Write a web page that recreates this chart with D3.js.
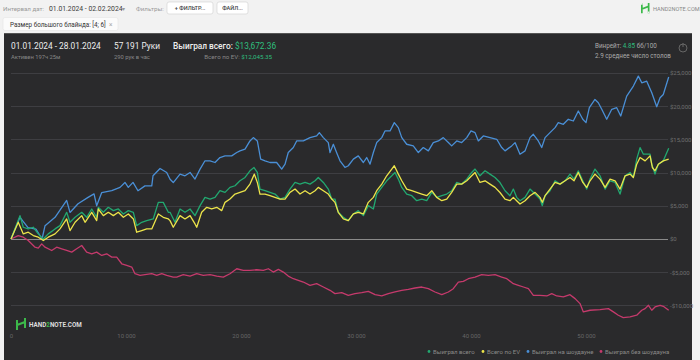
<!DOCTYPE html>
<html>
<head>
<meta charset="utf-8">
<script src="https://cdn.jsdelivr.net/npm/d3@7"></script>
<style>
  html, body { margin: 0; padding: 0; background: #f2f2f2; }
  body { width: 700px; height: 360px; overflow: hidden; font-family: Roboto, "Noto Sans", sans-serif; }
</style>
</head>
<body>
<svg id="chart" width="700" height="360"></svg>
<script>
// ---------- DATA ----------
const xTicks = [0, 10000, 20000, 30000, 40000, 50000];
const xTickLabels = ['0', '10 000', '20 000', '30 000', '40 000', '50 000'];
const yTicks = [25000, 20000, 15000, 10000, 5000, 0, -5000, -10000];
const yTickLabels = ['$25,000', '$20,000', '$15,000', '$10,000', '$5,000', '$0', '-$5,000', '-$10,000'];
const totalHands = 57191;

// Выиграл всего (green)
const wonHands = [0, 780, 1070, 1500, 1940, 2370, 2810, 3240, 3830, 4260, 4840, 5130, 5570, 6150, 6580, 7020, 7450, 7590, 8030, 8460, 8900, 9330, 9770, 10200, 10640, 10930, 11370, 11800, 12370, 12810, 13240, 13680, 13830, 14260, 14700, 15130, 15570, 16000, 16440, 16870, 17310, 17740, 18170, 18610, 19040, 19480, 19910, 20350, 20780, 21130, 21420, 21650, 22090, 22520, 22960, 23390, 23830, 24260, 24700, 25130, 25570, 26000, 26440, 26720, 27160, 27590, 27890, 28170, 28460, 28900, 29330, 29770, 30200, 30640, 31070, 31510, 31800, 32240, 32670, 33110, 33390, 33680, 33980, 34410, 34850, 35280, 35720, 36150, 36590, 37020, 37460, 37890, 38320, 38760, 39190, 39630, 40060, 40350, 40780, 41220, 41650, 42090, 42520, 42960, 43390, 43680, 43970, 44260, 44700, 45130, 45570, 46000, 46200, 46440, 46870, 47310, 47740, 48180, 48610, 48960, 49330, 49720, 50060, 50350, 50780, 51220, 51660, 52090, 52530, 52960, 53400, 53830, 54120, 54410, 54700, 54990, 55570, 55720, 56000, 56290, 56720, 57191];
const wonTotal = [0, 3520, 1770, 1520, 1770, 770, 0, 770, 1520, 2020, 4020, 2520, 3270, 4020, 3270, 4520, 3270, 4770, 4020, 4770, 4270, 4520, 3770, 4270, 4020, 2020, 2520, 2770, 3020, 5520, 5520, 4020, 4020, 2520, 4520, 4020, 4520, 3520, 5020, 6270, 6020, 6270, 7270, 7020, 7770, 8020, 8770, 9270, 10270, 10770, 10020, 7520, 7270, 7020, 6770, 6020, 6270, 7520, 8520, 8270, 8520, 8270, 8770, 9270, 8520, 7520, 6020, 6020, 4020, 3270, 2770, 3770, 4270, 3520, 5020, 4520, 6770, 7770, 8770, 9520, 10020, 9020, 7770, 6770, 6520, 5770, 6020, 5770, 7020, 6270, 6520, 6770, 7270, 8520, 8270, 9020, 10020, 10530, 9520, 10270, 9770, 9270, 8500, 7270, 6520, 7520, 6270, 5770, 6270, 7520, 6770, 6020, 5020, 6520, 7270, 8770, 8270, 8770, 9770, 9020, 10270, 8770, 7520, 9020, 10530, 9520, 7520, 8770, 8520, 6770, 9520, 10020, 9270, 12030, 13770, 12770, 12770, 11270, 9770, 11270, 11770, 13672];

// Всего по EV (yellow)
const evHands = [0, 630, 1070, 1500, 1940, 2370, 2810, 3240, 3830, 4260, 4840, 5130, 5570, 6150, 6440, 7020, 7450, 7590, 8030, 8460, 8900, 9330, 9770, 10200, 10640, 10930, 11370, 11800, 12240, 12810, 13240, 13680, 13830, 14110, 14700, 15130, 15570, 16000, 16150, 16580, 17020, 17450, 17890, 18320, 18610, 19040, 19480, 19910, 20350, 20780, 21160, 21420, 21650, 22090, 22520, 22960, 23390, 23830, 24260, 24700, 25130, 25570, 26000, 26440, 26720, 27160, 27590, 27890, 28170, 28460, 28900, 29330, 29770, 30200, 30640, 31070, 31510, 31800, 32240, 32670, 33110, 33330, 33680, 33980, 34410, 34850, 35280, 35720, 36150, 36590, 37020, 37460, 37890, 38320, 38760, 39190, 39630, 40060, 40350, 40780, 41220, 41650, 42090, 42520, 42960, 43390, 43680, 43970, 44260, 44700, 45130, 45570, 46000, 46200, 46440, 46870, 47310, 47740, 48180, 48610, 48960, 49330, 49720, 50060, 50350, 50780, 51220, 51660, 52090, 52530, 52960, 53400, 53830, 54120, 54410, 54700, 55140, 55570, 55770, 56000, 56290, 56720, 57191];
const evTotal = [0, 2520, 770, 1020, 520, 270, -230, 270, 770, 1520, 3020, 1270, 2520, 3520, 2520, 4020, 2770, 4520, 3520, 4020, 3520, 4020, 3270, 3770, 3020, 1020, 1270, 1520, 1520, 3770, 3270, 3020, 2770, 1770, 3520, 3020, 3520, 2270, 1770, 4020, 4770, 4520, 4770, 4270, 5520, 6020, 6770, 7020, 7270, 8270, 9770, 8520, 6770, 6770, 6520, 6270, 6020, 6020, 7020, 7520, 6770, 7270, 6770, 7270, 7770, 7270, 6770, 6020, 5520, 4020, 3020, 2770, 3770, 4020, 3770, 5520, 6270, 7270, 8270, 9520, 10530, 11030, 9770, 8770, 7520, 7270, 7020, 6770, 6520, 7270, 6270, 5770, 6020, 7020, 8270, 8270, 8770, 9520, 10020, 8520, 8770, 8270, 7770, 7000, 6020, 5770, 6270, 5770, 5270, 5770, 6520, 7020, 6270, 5520, 6520, 7520, 8520, 8270, 8770, 9270, 8770, 10020, 8520, 7770, 8770, 9770, 9020, 7770, 9020, 8770, 7520, 9520, 9770, 9270, 11270, 12270, 11770, 12520, 10770, 10270, 11270, 11770, 12045];

// Выиграл на шоудауне (blue)
const sdHands = [0, 780, 1480, 2170, 2700, 2960, 3830, 4840, 5130, 5830, 6700, 7220, 7450, 7890, 8760, 9480, 9910, 10200, 10610, 11040, 11650, 12240, 12350, 12960, 13540, 13830, 14110, 14700, 15130, 15570, 16000, 16440, 16870, 17310, 17740, 18170, 18610, 19190, 19630, 19910, 20350, 20780, 21070, 21420, 21710, 22090, 22520, 23100, 23540, 23830, 24110, 24550, 24840, 25420, 26000, 26580, 26810, 27160, 27590, 27740, 28030, 28320, 28610, 29040, 29330, 29770, 30200, 30640, 30930, 31220, 31510, 31800, 32240, 32520, 32960, 33330, 33680, 33980, 34410, 34980, 35420, 35850, 36290, 36720, 37160, 37590, 38030, 38320, 38760, 39190, 39630, 40000, 40350, 40640, 41070, 41650, 42240, 42670, 42960, 43540, 43830, 44260, 44700, 45130, 45420, 45850, 46150, 46440, 46870, 47310, 47590, 48030, 48460, 48900, 49330, 49720, 50000, 50290, 50780, 51070, 51370, 51800, 52240, 52670, 53020, 53540, 54120, 54550, 54850, 55280, 55720, 56150, 56440, 56720, 57191];
const sdWon = [0, 3270, 1700, 1500, 0, 2000, 3270, 5800, 4000, 5300, 6270, 6800, 5000, 7000, 7270, 7770, 8520, 7770, 8520, 7270, 8000, 8000, 9520, 10620, 10020, 9000, 8500, 9780, 9520, 10020, 9030, 10530, 11780, 11780, 11520, 12270, 12520, 12520, 13020, 13270, 13530, 14770, 15270, 14770, 12030, 11780, 11520, 11520, 10530, 11280, 13020, 13770, 14770, 14770, 15270, 15520, 16020, 15270, 14520, 13020, 14270, 13000, 11780, 10770, 11030, 12030, 12520, 11520, 12270, 11280, 13020, 14520, 15270, 16270, 16270, 17520, 16770, 15270, 14270, 14020, 13020, 13770, 13270, 14520, 14770, 15270, 14520, 14020, 14770, 14520, 15270, 16270, 16020, 14770, 15520, 15270, 15020, 13770, 13270, 14020, 14520, 12770, 13270, 15270, 15770, 14770, 13770, 15270, 16020, 16770, 17520, 17270, 18030, 17770, 19270, 18030, 17520, 19770, 21020, 20520, 19530, 18030, 19530, 19770, 18520, 21520, 23030, 24530, 23520, 23770, 22020, 19920, 21270, 21770, 24400];

// Выиграл без шоудауна (pink)
const nsdHands = [0, 630, 1070, 1500, 2090, 2370, 2670, 2960, 3540, 3970, 4410, 4840, 5280, 5710, 6150, 6580, 7020, 7450, 7890, 8320, 8760, 9190, 9630, 10060, 10500, 10780, 11220, 11650, 12240, 12670, 13110, 13540, 14110, 14410, 14980, 15570, 16150, 16720, 17310, 17890, 18460, 19040, 19630, 20200, 20780, 21370, 21940, 22380, 22810, 23250, 23680, 24110, 24550, 24980, 25420, 26000, 26580, 27160, 27740, 28170, 28760, 29330, 29910, 30500, 31070, 31660, 32240, 32810, 33390, 33980, 34550, 35130, 35720, 36290, 36870, 37460, 38030, 38460, 38900, 39330, 39770, 40350, 40930, 41510, 42090, 42670, 43110, 43680, 44120, 44560, 44990, 45420, 46000, 46590, 47020, 47460, 48030, 48610, 49050, 49480, 49770, 50350, 51220, 51940, 52380, 52810, 53240, 53830, 54410, 54850, 55140, 55430, 55720, 56000, 56440, 56720, 57191];
const nsdWon = [0, 520, 270, -230, -1230, -1380, -730, -1230, -1730, -1230, -1480, -1730, -1980, -1480, -980, -1980, -2230, -1980, -2480, -2230, -2730, -2730, -3730, -3980, -4230, -5230, -5480, -5380, -5230, -5480, -5230, -5480, -5730, -5730, -5380, -5580, -5230, -5480, -5380, -5580, -5730, -5230, -4480, -4730, -4730, -4630, -4730, -4480, -4980, -4580, -4980, -5580, -5980, -6230, -6480, -6980, -6730, -7230, -7730, -8230, -8080, -8480, -8230, -8080, -7880, -8380, -8580, -8230, -7980, -7730, -7580, -7380, -7230, -7480, -7980, -8380, -7980, -7480, -6480, -6380, -5980, -5730, -5380, -5480, -5380, -5730, -5980, -6730, -6980, -7230, -7480, -8480, -8480, -8580, -8230, -8580, -8730, -8380, -8980, -9730, -10980, -10730, -10630, -10480, -10980, -11480, -11830, -11730, -11480, -10730, -10480, -9980, -10730, -10230, -9980, -10130, -10730];

const legendLabels = ['Выиграл всего', 'Всего по EV', 'Выиграл на шоудауне', 'Выиграл без шоудауна'];
const seriesColors = ['#22a870', '#ece44a', '#4a8fd6', '#c53a6c'];

// ---------- SETUP ----------
const svg = d3.select('#chart');
const FONT = 'Roboto, sans-serif';

// page top (filters bar)
const bar = svg.append('g').attr('font-family', FONT);
bar.append('text').attr('x', 3).attr('y', 10.5).attr('font-size', 6.2).attr('fill', '#9a9a9a').text('Интервал дат:');
bar.append('text').attr('x', 49).attr('y', 10.5).attr('font-size', 6.8).attr('fill', '#3c3c3c').text('01.01.2024 - 02.02.2024');
bar.append('text').attr('x', 122).attr('y', 10.5).attr('font-size', 6).attr('fill', '#999').text('▾');
bar.append('text').attr('x', 136).attr('y', 10.5).attr('font-size', 6.2).attr('fill', '#9a9a9a').text('Фильтры:');

const buttons = [
  { x: 167, w: 46, label: '+  ФИЛЬТР...' },
  { x: 217, w: 31, label: 'ФАЙЛ...' },
];
buttons.forEach((b) => {
  bar.append('rect').attr('x', b.x).attr('y', 2).attr('width', b.w).attr('height', 12)
    .attr('rx', 2).attr('fill', '#fff').attr('stroke', '#d6d6d6').attr('stroke-width', 0.7);
  bar.append('text').attr('x', b.x + b.w / 2).attr('y', 10.3).attr('text-anchor', 'middle')
    .attr('font-size', 5.6).attr('font-weight', 500).attr('fill', '#444').text(b.label);
});

bar.append('rect').attr('x', 3).attr('y', 17.5).attr('width', 115).attr('height', 13)
  .attr('rx', 2).attr('fill', '#fbfbfb').attr('stroke', '#e4e4e4').attr('stroke-width', 0.6);
bar.append('text').attr('x', 10).attr('y', 26.5).attr('font-size', 6.3).attr('fill', '#333').text('Размер большого блайнда: [4; 6]');
bar.append('text').attr('x', 109).attr('y', 26.5).attr('font-size', 6.5).attr('fill', '#aaa').text('×');

// H2N logo glyph
function logo(g, x, y, s, tipColor) {
  const lg = g.append('g').attr('transform', `translate(${x},${y}) scale(${s})`);
  lg.append('path').attr('d', 'M1 0 V12 M9 0 V12 M1 7 L9 4').attr('stroke', '#3cb94a')
    .attr('stroke-width', 2).attr('fill', 'none');
  lg.append('path').attr('d', 'M1 0 V2 M9 10 V12').attr('stroke', tipColor)
    .attr('stroke-width', 2).attr('fill', 'none');
  return lg;
}
logo(bar, 641, 3, 0.85, '#f2f2f2');
bar.append('text').attr('x', 653).attr('y', 11).attr('font-size', 5.6).attr('fill', '#888').text('HAND2NOTE.COM');

// dark card
svg.append('rect').attr('x', 4).attr('y', 33).attr('width', 688).attr('height', 327).attr('fill', '#2a2a2c');
svg.append('line').attr('x1', 4).attr('x2', 692).attr('y1', 33.5).attr('y2', 33.5).attr('stroke', '#555').attr('stroke-width', 1);

// card header
const hd = svg.append('g').attr('font-family', FONT);
hd.append('text').attr('x', 11).attr('y', 49).attr('font-size', 8.3).attr('fill', '#eee').text('01.01.2024 - 28.01.2024');
hd.append('text').attr('x', 11).attr('y', 59).attr('font-size', 5.8).attr('fill', '#888').text('Активен 197ч 25м');
hd.append('text').attr('x', 114).attr('y', 49).attr('font-size', 8.3).attr('fill', '#eee').text('57 191 Руки');
hd.append('text').attr('x', 114).attr('y', 59).attr('font-size', 5.8).attr('fill', '#888').text('290 рук в час');
const wt = hd.append('text').attr('x', 173).attr('y', 49).attr('font-size', 8.3);
wt.append('tspan').attr('fill', '#eee').attr('font-weight', 500).text('Выиграл всего: ');
wt.append('tspan').attr('fill', '#2fbf7e').text('$13,672.36');
const ev = hd.append('text').attr('x', 272).attr('y', 59).attr('font-size', 6.2).attr('text-anchor', 'end');
ev.append('tspan').attr('fill', '#888').text('Всего по EV: ');
ev.append('tspan').attr('fill', '#2fbf7e').text('$12,045.35');
const wr = hd.append('text').attr('x', 595).attr('y', 48).attr('font-size', 6.3);
wr.append('tspan').attr('fill', '#aaa').text('Винрейт: ');
wr.append('tspan').attr('fill', '#2fbf7e').text('4.85');
wr.append('tspan').attr('fill', '#aaa').text(' бб/100');
hd.append('text').attr('x', 595).attr('y', 58).attr('font-size', 6.3).attr('fill', '#aaa').text('2.9 среднее число столов');
hd.append('circle').attr('cx', 683).attr('cy', 48).attr('r', 4).attr('fill', 'none').attr('stroke', '#666').attr('stroke-width', 1);
hd.append('line').attr('x1', 683).attr('x2', 683).attr('y1', 43).attr('y2', 47).attr('stroke', '#666').attr('stroke-width', 1);

// ---------- SCALES ----------
const x = d3.scaleLinear().domain([0, totalHands]).range([11, 668.7]);
const y = d3.scaleLinear().domain([-10000, 25000]).range([305.4, 73]);

// grid
const grid = svg.append('g');
grid.selectAll('line').data(yTicks).join('line')
  .attr('x1', 11).attr('x2', 668)
  .attr('y1', (d) => Math.round(y(d)) + 0.5).attr('y2', (d) => Math.round(y(d)) + 0.5)
  .attr('stroke', (d) => (d === 0 ? '#8a8a8a' : '#444447'))
  .attr('stroke-width', (d) => (d === 0 ? 1.2 : 0.8));

// right axis labels
const yAxis = d3.axisRight(y).tickValues(yTicks).tickSize(0).tickPadding(0)
  .tickFormat((d, i) => yTickLabels[i]);
const ya = svg.append('g').attr('transform', 'translate(670,0)').call(yAxis);
ya.select('.domain').remove();
ya.selectAll('text').attr('fill', '#707070').attr('font-size', 6).attr('font-family', FONT);

// bottom axis labels
const xAxis = d3.axisBottom(x).tickValues(xTicks).tickSize(0).tickPadding(0)
  .tickFormat((d, i) => xTickLabels[i]);
const xa = svg.append('g').attr('transform', 'translate(0,334)').call(xAxis);
xa.select('.domain').remove();
xa.selectAll('text').attr('fill', '#666').attr('font-size', 6).attr('font-family', FONT);

// ---------- LINES ----------
const line = d3.line().x((d) => x(d[0])).y((d) => y(d[1]));
const series = [
  { hands: sdHands, vals: sdWon, color: seriesColors[2] },
  { hands: nsdHands, vals: nsdWon, color: seriesColors[3] },
  { hands: wonHands, vals: wonTotal, color: seriesColors[0] },
  { hands: evHands, vals: evTotal, color: seriesColors[1] },
];
svg.append('g').selectAll('path').data(series).join('path')
  .attr('d', (s) => line(s.hands.map((h, i) => [h, s.vals[i]])))
  .attr('fill', 'none')
  .attr('stroke', (s) => s.color)
  .attr('stroke-width', 1.3)
  .attr('stroke-linejoin', 'round');

// bottom-left logo
logo(svg, 16, 318, 1, '#2a2a2c');
const bl = svg.append('text').attr('x', 29).attr('y', 327).attr('font-size', 6.3).attr('font-weight', 700)
  .attr('font-family', FONT);
bl.append('tspan').attr('fill', '#ddd').text('HAND');
bl.append('tspan').attr('fill', '#3cb94a').text('2');
bl.append('tspan').attr('fill', '#ddd').text('NOTE.COM');

// legend
const legendX = [429, 483, 528, 601];
const lg = svg.append('g').attr('font-family', FONT);
legendLabels.forEach((name, i) => {
  lg.append('circle').attr('cx', legendX[i]).attr('cy', 351.5).attr('r', 1.4).attr('fill', seriesColors[i]);
  lg.append('text').attr('x', legendX[i] + 4).attr('y', 353.8).attr('font-size', 6).attr('fill', '#8a8a8a').text(name);
});
</script>
</body>
</html>
